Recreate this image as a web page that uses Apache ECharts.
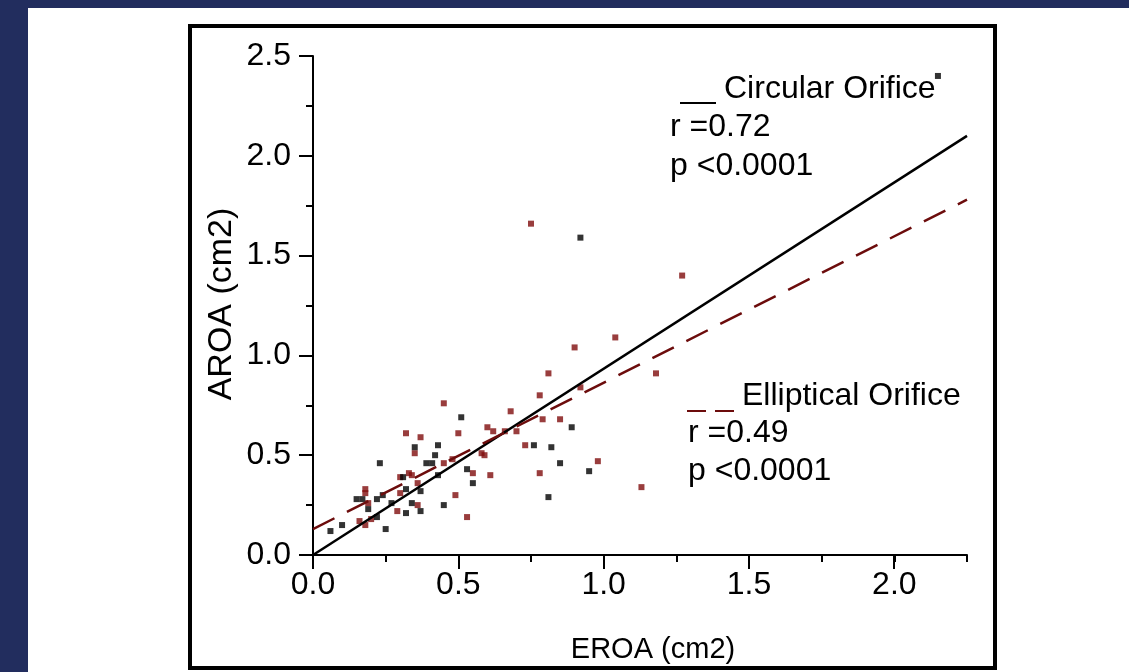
<!DOCTYPE html>
<html>
<head>
<meta charset="utf-8">
<script src="https://cdn.jsdelivr.net/npm/echarts@6/dist/echarts.min.js"></script>
<style>
  html, body { margin: 0; padding: 0; background: #fff; }
  #chart { width: 1129px; height: 672px; }
</style>
</head>
<body>
<div id="chart"></div>
<script>
// circular orifice (black points)
const circX = [2.15, 0.92, 0.51, 0.89, 0.76, 0.82, 0.85, 0.95, 0.81, 0.35, 0.43, 0.42, 0.39, 0.41, 0.53, 0.23, 0.31, 0.43, 0.55, 0.32, 0.37, 0.24, 0.15, 0.17, 0.22, 0.27, 0.34, 0.45, 0.19, 0.37, 0.32, 0.22, 0.10, 0.25, 0.06]
const circY = [2.40, 1.59, 0.69, 0.64, 0.55, 0.54, 0.46, 0.42, 0.29, 0.54, 0.55, 0.50, 0.46, 0.46, 0.43, 0.46, 0.39, 0.40, 0.36, 0.33, 0.32, 0.30, 0.28, 0.28, 0.28, 0.26, 0.26, 0.25, 0.23, 0.22, 0.21, 0.19, 0.15, 0.13, 0.12]
// elliptical orifice (red points)
const ellX = [0.75, 1.27, 1.04, 0.90, 0.81, 1.18, 0.92, 0.78, 0.68, 0.79, 0.85, 0.62, 0.66, 0.70, 0.60, 0.73, 0.98, 0.78, 1.13, 0.45, 0.32, 0.37, 0.50, 0.35, 0.48, 0.58, 0.59, 0.45, 0.55, 0.61, 0.33, 0.34, 0.36, 0.49, 0.36, 0.53, 0.18, 0.18, 0.30, 0.30, 0.19, 0.29, 0.20, 0.16, 0.18]
const ellY = [1.66, 1.40, 1.09, 1.04, 0.91, 0.91, 0.84, 0.80, 0.72, 0.68, 0.68, 0.62, 0.62, 0.62, 0.64, 0.55, 0.47, 0.41, 0.34, 0.76, 0.61, 0.59, 0.61, 0.51, 0.48, 0.51, 0.50, 0.46, 0.41, 0.40, 0.41, 0.40, 0.36, 0.30, 0.25, 0.19, 0.33, 0.31, 0.39, 0.31, 0.26, 0.22, 0.18, 0.17, 0.15]
// regression lines
const fitX = [0, 2.25]
const circFitY = [0, 2.1]
const ellFitY = [0.13, 1.78]

const xTicks = ['0.0', '0.5', '1.0', '1.5', '2.0']
const yTicks = ['0.0', '0.5', '1.0', '1.5', '2.0', '2.5']

const FONT = '"Liberation Sans", Arial, sans-serif'
const RED = '#800c0c'
const DASH_RED = '#6c0c0c'

function pairs(xs, ys) {
  return xs.map((x, i) => [x, ys[i]])
}

const chart = echarts.init(document.getElementById('chart'))

const txt = (x, y, s, size) => ({
  type: 'text', x: x, y: y,
  style: { text: s, font: size + 'px ' + FONT, fill: '#000', textVerticalAlign: 'middle', verticalAlign: 'middle' }
})

chart.setOption({
  animation: false,
  backgroundColor: '#fff',
  grid: [
    { left: 313, right: 162, top: 56, bottom: 117 },
    // overlay grid just for the long ticks at 0.5 steps
    { left: 313, width: 581, top: 56, bottom: 117 }
  ],
  xAxis: [
    {
      type: 'value',
      gridIndex: 0,
      min: 0,
      max: 2.25,
      interval: 0.25,
      splitLine: { show: false },
      axisLine: { lineStyle: { color: '#000', width: 2 } },
      axisTick: { length: 7, lineStyle: { color: '#000', width: 2 } },
      axisLabel: {
        margin: 14,
        color: '#000',
        fontFamily: FONT,
        fontSize: 32,
        formatter: v => {
          const k = Math.round(v * 4)
          return k % 2 === 0 ? xTicks[k / 2] : ''
        }
      }
    },
    {
      type: 'value',
      gridIndex: 1,
      min: 0,
      max: 2,
      interval: 0.5,
      splitLine: { show: false },
      axisLine: { show: false },
      axisTick: { length: 14, lineStyle: { color: '#000', width: 2 } },
      axisLabel: { show: false }
    }
  ],
  yAxis: [
    {
      type: 'value',
      gridIndex: 0,
      min: 0,
      max: 2.5,
      interval: 0.5,
      splitLine: { show: false },
      axisLine: { show: true, lineStyle: { color: '#000', width: 2 } },
      axisTick: { show: true, length: 14, lineStyle: { color: '#000', width: 2 } },
      minorTick: { show: true, splitNumber: 2, length: 7, lineStyle: { color: '#000', width: 2 } },
      axisLabel: {
        margin: 22,
        color: '#000',
        fontFamily: FONT,
        fontSize: 32,
        formatter: v => yTicks[Math.round(v * 2)]
      }
    },
    {
      type: 'value',
      gridIndex: 1,
      min: 0,
      max: 2.5,
      show: false
    }
  ],
  graphic: [
    { type: 'rect', shape: { x: 0, y: 0, width: 1129, height: 8 }, style: { fill: '#222d5e' }, silent: true },
    { type: 'rect', shape: { x: 0, y: 0, width: 28, height: 672 }, style: { fill: '#222d5e' }, silent: true },
    { type: 'rect', shape: { x: 190, y: 26, width: 805, height: 642 }, style: { fill: 'none', stroke: '#000', lineWidth: 4 }, silent: true },
    // axis titles
    {
      type: 'text', x: 653, y: 650,
      style: { text: 'EROA (cm2)', font: '29px ' + FONT, fill: '#000', textAlign: 'center', textVerticalAlign: 'middle', align: 'center', verticalAlign: 'middle' }
    },
    {
      type: 'text', x: 222, y: 304, rotation: Math.PI / 2,
      style: { text: 'AROA (cm2)', font: '34px ' + FONT, fill: '#000', textAlign: 'center', textVerticalAlign: 'middle', align: 'center', verticalAlign: 'middle' }
    },
    // circular orifice annotation
    { type: 'line', shape: { x1: 680, y1: 103, x2: 716, y2: 103 }, style: { stroke: '#000', lineWidth: 2 } },
    txt(724, 89, 'Circular Orifice', 32),
    txt(670, 127, 'r =0.72', 32),
    txt(670, 166, 'p <0.0001', 32),
    // elliptical orifice annotation
    { type: 'line', shape: { x1: 687, y1: 411, x2: 706, y2: 411 }, style: { stroke: DASH_RED, lineWidth: 2 } },
    { type: 'line', shape: { x1: 715, y1: 411, x2: 734, y2: 411 }, style: { stroke: DASH_RED, lineWidth: 2 } },
    txt(742, 396, 'Elliptical Orifice', 32),
    txt(688, 433, 'r =0.49', 32),
    txt(688, 471, 'p <0.0001', 32)
  ],
  series: [
    {
      name: 'Elliptical Orifice',
      type: 'scatter',
      symbol: 'rect',
      symbolSize: 6,
      itemStyle: { color: RED },
      data: pairs(ellX, ellY)
    },
    {
      name: 'Circular Orifice',
      type: 'scatter',
      symbol: 'rect',
      symbolSize: 6,
      itemStyle: { color: '#000' },
      data: pairs(circX, circY)
    },
    {
      name: 'Circular fit',
      type: 'line',
      symbol: 'none',
      lineStyle: { color: '#000', width: 2.5 },
      data: pairs(fitX, circFitY)
    },
    {
      name: 'Elliptical fit',
      type: 'line',
      symbol: 'none',
      lineStyle: { color: DASH_RED, width: 2.5, type: [24, 14] },
      data: pairs(fitX, ellFitY)
    }
  ]
})
</script>
</body>
</html>
